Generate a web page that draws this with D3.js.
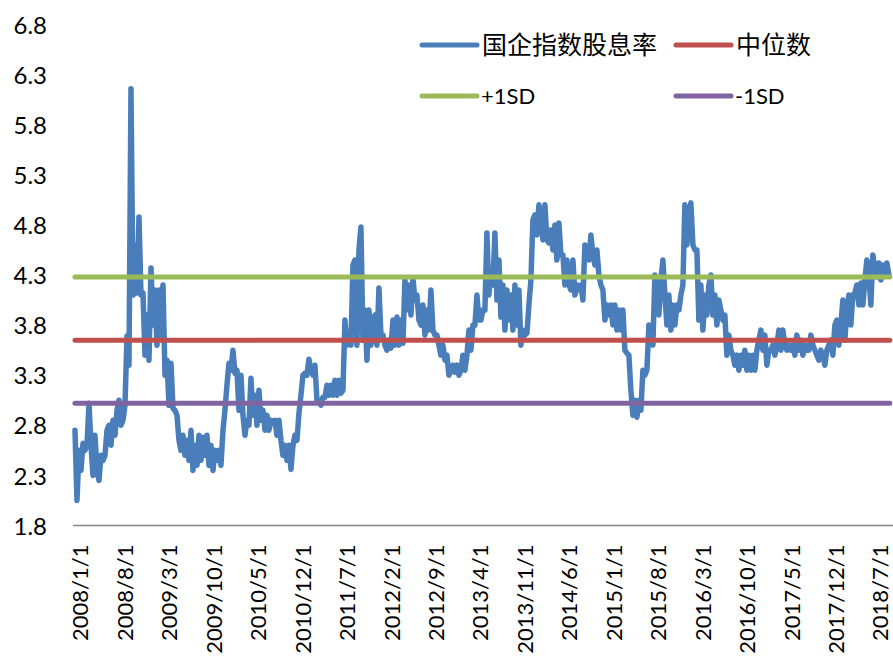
<!DOCTYPE html>
<html><head><meta charset="utf-8">
<script src="https://cdn.jsdelivr.net/npm/d3@7/dist/d3.min.js"></script>
<style>
body{margin:0;background:#fff;}
svg{display:block;}
</style>
</head><body>
<svg id="chart" width="893" height="658"></svg>
<script>
// ---- data ----
const seriesName = '国企指数股息率';
// dividend yield, sampled roughly every 9.6 days from early Dec 2007 to Aug 2018
const seriesStart = '2007-12-08';
const seriesStepHours = 230;
const seriesValues = [
2.75,2.05,2.55,2.35,2.62,2.55,2.6,3.02,2.6,2.3,
2.7,2.35,2.25,2.5,2.45,2.5,2.75,2.8,2.6,2.85,
2.7,2.95,3.05,2.8,2.85,3.0,3.69,3.4,6.16,4.1,
4.6,4.12,4.88,4.1,4.12,3.5,3.9,3.45,4.37,3.8,
4.15,3.6,4.15,3.7,4.2,3.3,3.45,3.0,3.42,2.97,
2.95,2.9,2.65,2.55,2.7,2.5,2.65,2.45,2.75,2.35,
2.6,2.4,2.7,2.45,2.68,2.5,2.7,2.4,2.6,2.35,
2.55,2.45,2.55,2.4,2.75,2.95,3.2,3.42,3.35,3.55,
3.32,3.35,2.95,3.3,2.9,2.7,2.85,2.8,3.27,2.9,
3.1,2.8,3.15,2.85,2.95,2.75,2.9,2.75,2.85,2.82,
2.85,2.7,2.85,2.65,2.5,2.6,2.45,2.6,2.36,2.6,
2.7,2.65,2.92,3.1,3.3,3.32,3.3,3.46,3.35,3.3,
3.4,3.05,3.05,3.0,3.08,3.08,3.2,3.1,3.2,3.1,
3.25,3.1,3.25,3.12,3.15,3.85,3.6,3.68,3.6,4.4,
4.45,3.6,4.55,4.78,3.65,3.95,3.45,3.95,3.6,3.75,
3.9,3.6,4.17,3.7,3.7,3.6,3.55,3.65,3.57,3.85,
3.6,3.88,3.6,3.85,3.62,4.25,3.95,4.2,3.9,4.27,
4.05,4.1,3.85,3.8,4.0,3.7,3.95,3.75,4.15,3.75,
3.7,3.7,3.6,3.5,3.6,3.45,3.5,3.3,3.35,3.4,
3.33,3.4,3.3,3.35,3.5,3.35,3.5,3.75,3.55,3.8,
3.8,4.1,3.85,3.85,3.95,3.95,4.72,4.1,4.35,4.2,
4.72,4.05,4.45,3.88,4.2,3.75,4.15,3.85,4.1,3.75,
4.2,3.8,4.15,3.6,3.75,3.7,3.72,4.0,4.25,4.85,
4.9,4.7,5.0,4.85,4.65,5.0,4.65,4.62,4.75,4.55,
4.8,4.45,4.82,4.5,4.5,4.2,4.45,4.2,4.15,4.45,
4.1,4.2,4.15,4.2,4.05,4.6,4.5,4.45,4.7,4.5,
4.4,4.55,4.3,4.2,4.15,3.85,4.0,3.9,4.0,3.8,
4.0,3.75,3.95,3.75,3.95,3.55,3.52,3.5,3.15,2.9,
3.05,2.88,3.05,2.95,3.35,3.3,3.35,3.8,3.75,3.6,
4.3,4.1,3.9,4.25,4.45,4.1,3.8,4.1,3.75,4.0,
3.8,4.0,3.95,4.1,4.2,5.0,4.6,4.9,5.02,4.6,
4.55,4.55,3.85,4.2,3.75,4.1,3.9,4.2,4.3,3.9,
4.1,3.8,4.05,3.95,3.85,3.9,3.5,3.7,3.55,3.5,
3.4,3.5,3.35,3.5,3.4,3.55,3.35,3.5,3.35,3.5,
3.35,3.55,3.65,3.75,3.55,3.7,3.4,3.55,3.55,3.6,
3.5,3.6,3.75,3.55,3.75,3.6,3.55,3.6,3.55,3.6,
3.5,3.7,3.55,3.65,3.5,3.6,3.55,3.55,3.7,3.6,
3.55,3.5,3.45,3.55,3.5,3.4,3.55,3.6,3.65,3.5,
3.8,3.85,3.6,3.8,4.05,3.65,3.95,4.1,3.8,4.1,
4.12,4.2,4.0,4.22,4.0,4.25,4.45,4.3,4.0,4.5,
4.35,4.28,4.42,4.25,4.4,4.3,4.42,4.3
];
const refNames = ['中位数', '+1SD', '-1SD'];
const refValues = [3.65, 4.28, 3.02];
const yTicks = [1.8, 2.3, 2.8, 3.3, 3.8, 4.3, 4.8, 5.3, 5.8, 6.3, 6.8];
const xTickLabels = ['2008/1/1','2008/8/1','2009/3/1','2009/10/1','2010/5/1','2010/12/1',
  '2011/7/1','2012/2/1','2012/9/1','2013/4/1','2013/11/1','2014/6/1','2015/1/1',
  '2015/8/1','2016/3/1','2016/10/1','2017/5/1','2017/12/1','2018/7/1'];

// ---- styles ----
const seriesColor = '#4A7EBB';
const refColors = ['#C0504D', '#9BBB59', '#8064A2'];
const latin = 'Lato, "Liberation Sans", sans-serif';
const cjk = '"Noto Sans CJK SC", Lato, sans-serif';

// ---- build ----
const parse = d3.timeParse('%Y/%m/%d');
const tickDates = xTickLabels.map(parse);
const start = d3.timeParse('%Y-%m-%d')(seriesStart);
const data = seriesValues.map((v, i) => ({date: d3.timeHour.offset(start, i * seriesStepHours), value: v}));

const svg = d3.select('#chart');
const x = d3.scaleTime().domain([tickDates[0], tickDates[tickDates.length - 1]]).range([80, 880]);
const y = d3.scaleLinear().domain([1.8, 6.8]).range([525.5, 24.5]);

// y axis labels
const yAxis = d3.axisLeft(y).tickValues(yTicks).tickFormat(d3.format('.1f')).tickSize(0).tickPadding(28);
const gy = svg.append('g').attr('transform', 'translate(75,0)').call(yAxis);
gy.select('.domain').remove();
gy.selectAll('text').attr('font-family', latin).attr('font-size', 24).attr('fill', '#000').attr('dy', '0.36em');

// x axis
const xAxis = d3.axisBottom(x).tickValues(tickDates).tickFormat((d, i) => xTickLabels[i]).tickSize(0);
const gx = svg.append('g').attr('transform', 'translate(0,525.5)').call(xAxis);
gx.select('.domain').remove();
gx.selectAll('text')
  .attr('font-family', latin).attr('font-size', 22).attr('fill', '#000')
  .attr('transform', 'rotate(-90)')
  .attr('x', -19).attr('y', 0).attr('dy', '0.36em')
  .style('text-anchor', 'end');

// axis line
svg.append('line').attr('x1', 73).attr('x2', 893)
  .attr('y1', y(1.8)).attr('y2', y(1.8))
  .attr('stroke', '#868686').attr('stroke-width', 1.5);

// series
const line = d3.line().x(d => x(d.date)).y(d => y(d.value));
svg.append('path').datum(data)
  .attr('d', line).attr('fill', 'none')
  .attr('stroke', seriesColor).attr('stroke-width', 5.5)
  .attr('stroke-linejoin', 'round').attr('stroke-linecap', 'round');

// reference lines
const xFirst = x(data[0].date), xLast = x(data[data.length - 1].date);
refValues.forEach((v, i) => {
  svg.append('line').attr('x1', xFirst).attr('x2', xLast + 1)
    .attr('y1', y(v)).attr('y2', y(v))
    .attr('stroke', refColors[i]).attr('stroke-width', 5).attr('stroke-linecap', 'round');
});

// legend
const legendItems = [
  {name: seriesName, color: seriesColor, x: 422, y: 45},
  {name: refNames[0], color: refColors[0], x: 676, y: 45},
  {name: refNames[1], color: refColors[1], x: 422, y: 96},
  {name: refNames[2], color: refColors[2], x: 676, y: 96}
];
const lg = svg.append('g');
legendItems.forEach(it => {
  lg.append('line').attr('x1', it.x).attr('x2', it.x + 55)
    .attr('y1', it.y).attr('y2', it.y)
    .attr('stroke', it.color).attr('stroke-width', 5).attr('stroke-linecap', 'round');
  const isCJK = /[\u4e00-\u9fff]/.test(it.name);
  lg.append('text').attr('x', it.x + (isCJK ? 60 : 59)).attr('y', it.y)
    .attr('dy', '0.36em')
    .attr('font-family', isCJK ? cjk : latin)
    .attr('font-size', isCJK ? 25 : 22)
    .attr('fill', '#000')
    .text(it.name);
});
</script>
</body></html>
